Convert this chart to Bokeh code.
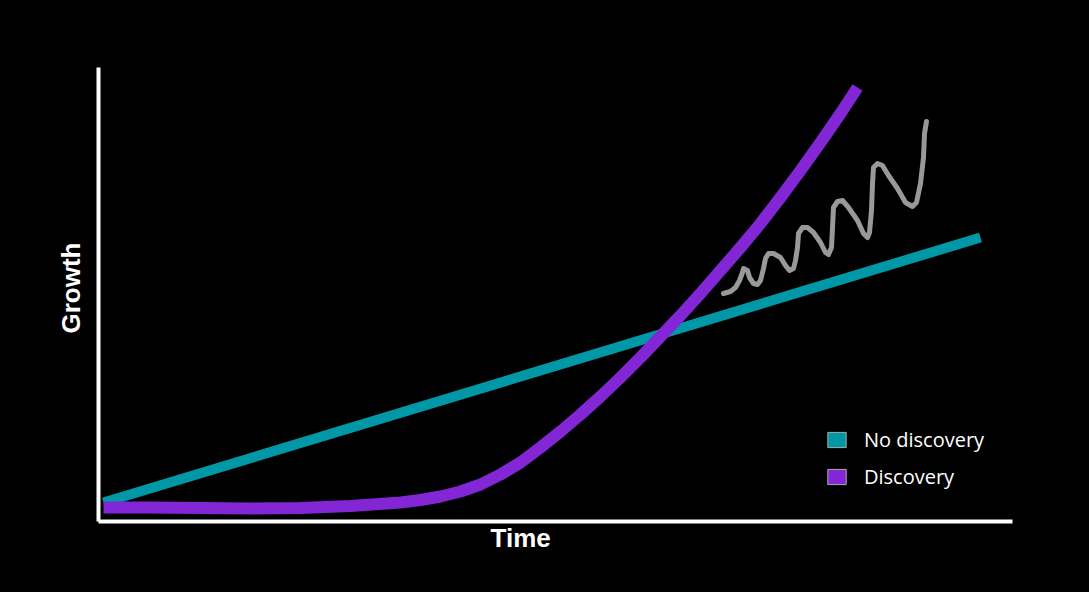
from bokeh.plotting import figure
from bokeh.models import Range1d, Legend, LegendItem, Title
from bokeh.embed import file_html
from bokeh.resources import INLINE

# --- data (time, growth) in chart units ---
no_disc_time = [7, 884]
no_disc_growth = [19, 284]

disc_time = [7, 54, 104, 154, 204, 254, 304, 324, 344, 364, 384, 404, 424, 444, 464,
             484, 504, 524, 544, 564, 584, 604, 624, 644, 664, 684, 704, 724, 744, 761]
disc_growth = [14, 14, 13.5, 13, 13.5, 15.5, 19, 21.5, 25, 30, 37, 47, 59, 74, 90,
               107, 125, 144, 164, 185, 206, 228, 251, 274, 298, 324, 351, 379, 408, 434]

squiggle_time = [627, 634, 639, 643, 646, 647, 651, 653, 657, 661, 664, 667, 669, 672, 677,
                 684, 689, 693, 697, 699, 701, 702, 706, 711, 717, 724, 729, 732, 735, 736,
                 737, 741, 746, 752, 761, 767, 771, 773, 775, 776, 777, 781, 786, 792, 801,
                 809, 816, 820, 824, 827, 828, 830]
squiggle_growth = [228, 230, 234, 241, 249, 253, 251, 244, 238, 237, 241, 253, 263, 268, 268,
                   264, 256, 251, 253, 261, 274, 288, 294, 294, 289, 279, 269, 267, 274, 294,
                   314, 320, 321, 314, 301, 288, 284, 289, 311, 338, 354, 358, 356, 346, 333,
                   319, 315, 319, 338, 364, 388, 400]

labels = ["No discovery", "Discovery"]
colors = ["#0098a6", "#8226d6"]
squiggle_color = "#999999"

p = figure(width=1089, height=592, output_backend="svg", toolbar_location=None,
           x_range=Range1d(2, 916), y_range=Range1d(0, 454),
           min_border_left=98, min_border_right=77, min_border_top=67, min_border_bottom=71,
           background_fill_color="black", border_fill_color="black", outline_line_color=None)
p.grid.visible = False

for ax in [p.xaxis[0], p.yaxis[0]]:
    ax.axis_line_color = "white"
    ax.axis_line_width = 4
    ax.major_tick_line_color = None
    ax.minor_tick_line_color = None
    ax.major_tick_out = 0
    ax.major_tick_in = 0
    ax.minor_tick_out = 0
    ax.minor_tick_in = 0
    ax.major_label_standoff = 0
    ax.major_label_text_font_size = "0px"
    ax.major_label_text_color = None

p.line(no_disc_time, no_disc_growth, line_color=colors[0], line_width=10)
p.line(disc_time, disc_growth, line_color=colors[1], line_width=12, line_join="round")
p.line(squiggle_time, squiggle_growth, line_color=squiggle_color, line_width=5,
       line_join="round", line_cap="round")

# legend swatches (hidden renderers, only used for the legend)
q1 = p.quad(left=[0], right=[0], top=[0], bottom=[0], fill_color=colors[0],
            line_color="#aaaaaa", line_width=1, visible=False)
q2 = p.quad(left=[0], right=[0], top=[0], bottom=[0], fill_color=colors[1],
            line_color="#aaaaaa", line_width=1, visible=False)

legend = Legend(items=[LegendItem(label=labels[0], renderers=[q1]),
                       LegendItem(label=labels[1], renderers=[q2])],
                location=(727, 31), padding=0, margin=0, spacing=10,
                glyph_width=23, glyph_height=19, label_height=19, label_standoff=16,
                label_text_color="white", label_text_font="Open Sans", label_text_font_size="20px",
                background_fill_alpha=0, border_line_alpha=0, inactive_fill_alpha=0)
p.add_layout(legend, "center")

p.add_layout(Title(text="Time", align="left", offset=392, vertical_align="top", standoff=3,
                   text_color="white", text_font="Liberation Sans", text_font_style="bold",
                   text_font_size="26px"), "below")
p.add_layout(Title(text="Growth", align="left", offset=188, standoff=25, text_color="white",
                   text_font="Liberation Sans", text_font_style="bold",
                   text_font_size="26px"), "left")

html = file_html(p, INLINE)
html = html.replace("</head>", "<style>body{background:#000;}</style></head>")
open("out.html", "w").write(html)
